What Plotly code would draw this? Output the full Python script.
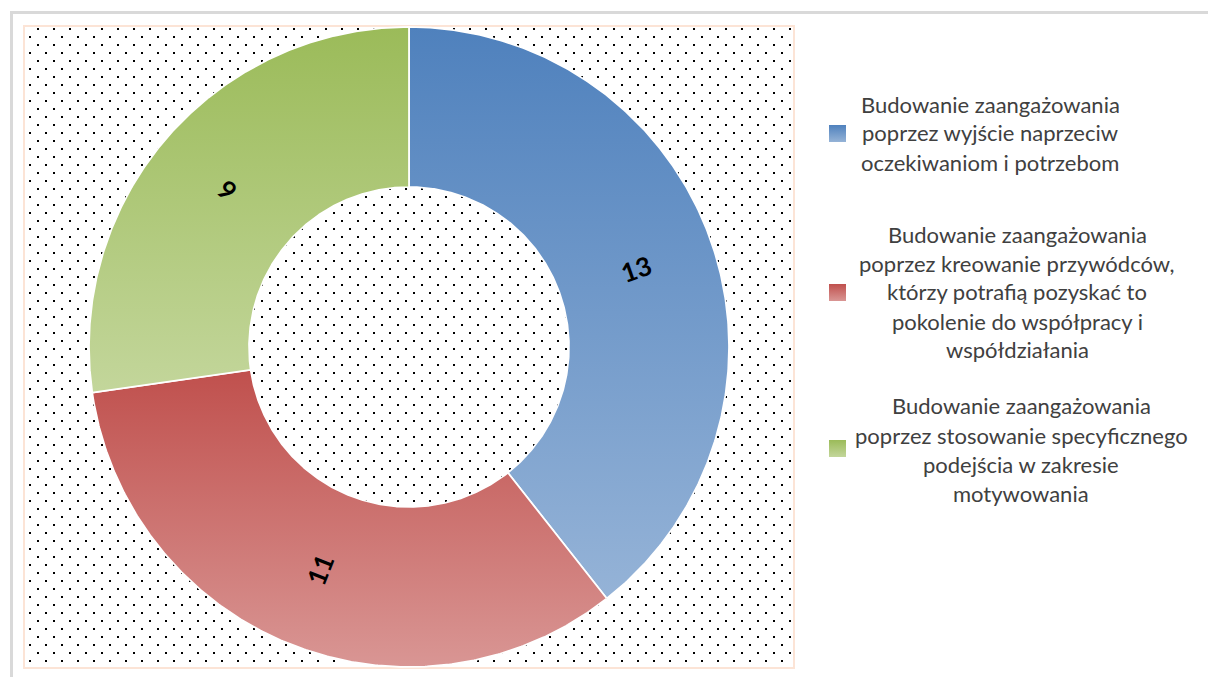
import base64
import numpy as np
import plotly.graph_objects as go

# ---- data ---------------------------------------------------------------
categories = [
    "Budowanie zaangażowania poprzez wyjście naprzeciw oczekiwaniom i potrzebom",
    "Budowanie zaangażowania poprzez kreowanie przywódców, którzy potrafią "
    "pozyskać to pokolenie do współpracy i współdziałania",
    "Budowanie zaangażowania poprzez stosowanie specyficznego podejścia "
    "w zakresie motywowania",
]
legend_lines = [
    ["Budowanie zaangażowania", "poprzez wyjście naprzeciw",
     "oczekiwaniom i potrzebom"],
    ["Budowanie zaangażowania", "poprzez kreowanie przywódców,",
     "którzy potrafią pozyskać to", "pokolenie do współpracy i",
     "współdziałania"],
    ["Budowanie zaangażowania", "poprzez stosowanie specyficznego",
     "podejścia w zakresie", "motywowania"],
]
values = [13, 11, 9]
colors_dark = ["#4F81BD", "#C0504D", "#9BBB59"]
colors_light = ["#95B3D7", "#D99694", "#C3D69B"]

# ---- geometry (pixels) ---------------------------------------------------
W, H = 1208, 677
PL, PR, PT, PB = 24, 794, 26, 668          # plot area box
PW, PH = PR - PL, PB - PT
R_OUT, R_IN = 320, 160                     # donut radii in axis units (1 unit = 1 px)
R_LABEL = (R_OUT + R_IN) / 2
FONT = "Lato"


def px_x(px):
    return (px - PL) / PW


def px_y(py):
    return 1 - (py - PT) / PH


def svg_uri(svg):
    return "data:image/svg+xml;base64," + base64.b64encode(svg.encode("utf-8")).decode()


fig = go.Figure()

# ---- donut slices with vertical gradient fill ---------------------------
total = sum(values)
start = 0
annotations = []
for cat, v, dark, light in zip(categories, values, colors_dark, colors_light):
    a0 = start / total * 2 * np.pi
    a1 = (start + v) / total * 2 * np.pi
    t = np.linspace(a0, a1, 300)
    x = np.concatenate([R_OUT * np.sin(t), R_IN * np.sin(t[::-1]), [R_OUT * np.sin(a0)]])
    y = np.concatenate([R_OUT * np.cos(t), R_IN * np.cos(t[::-1]), [R_OUT * np.cos(a0)]])
    fig.add_trace(go.Scatter(
        x=x, y=y, mode="lines", fill="toself", name=cat,
        line=dict(color="white", width=1.75),
        fillgradient=dict(type="vertical", colorscale=[[0, light], [1, dark]]),
        hoverinfo="skip", showlegend=False,
    ))
    mid = (start + v / 2) / total * 360
    rot = mid - 90
    if rot > 90:
        rot -= 180
    elif rot < -90:
        rot += 180
    annotations.append(dict(
        x=R_LABEL * np.sin(np.radians(mid)), y=R_LABEL * np.cos(np.radians(mid)),
        xref="x", yref="y", text=f"<b>{v}</b>", showarrow=False, textangle=rot,
        font=dict(family=FONT, size=26, color="#000000"),
    ))
    start += v

# ---- legend (centred multi-line text with gradient swatches) -----------
block_cx = [990, 1017, 1021]
block_y = [[104, 133, 162],
           [234, 263, 292, 321, 350],
           [406, 435, 464, 493]]
swatch_top = [125, 284, 440]
SW = 17
images = []
for lines, cx, ys, st, dark, light in zip(legend_lines, block_cx, block_y,
                                         swatch_top, colors_dark, colors_light):
    for line, yy in zip(lines, ys):
        annotations.append(dict(
            x=px_x(cx), y=px_y(yy), xref="paper", yref="paper", text=line,
            showarrow=False, xanchor="center", yanchor="middle",
            font=dict(family=FONT, size=22, color="#404040"),
        ))
    sw_svg = (
        f'<svg xmlns="http://www.w3.org/2000/svg" width="{SW}" height="{SW}">'
        '<defs><linearGradient id="g" x1="0" y1="0" x2="0" y2="1">'
        f'<stop offset="0" stop-color="{dark}"/><stop offset="1" stop-color="{light}"/>'
        '</linearGradient></defs>'
        f'<rect width="{SW}" height="{SW}" fill="url(#g)"/></svg>'
    )
    images.append(dict(
        source=svg_uri(sw_svg), xref="paper", yref="paper",
        x=px_x(829), y=px_y(st), sizex=SW / PW, sizey=SW / PH,
        xanchor="left", yanchor="top", sizing="stretch", layer="above",
    ))

# ---- dotted plot-area background ---------------------------------------
dots_svg = (
    f'<svg xmlns="http://www.w3.org/2000/svg" width="{PW}" height="{PH}">'
    '<defs><pattern id="d" width="16" height="16" patternUnits="userSpaceOnUse">'
    '<rect x="13" y="2" width="2" height="2" fill="#000"/>'
    '<rect x="5" y="10" width="2" height="2" fill="#000"/>'
    '</pattern></defs>'
    f'<rect width="{PW}" height="{PH}" fill="url(#d)"/></svg>'
)
images.append(dict(
    source=svg_uri(dots_svg), xref="paper", yref="paper",
    x=0, y=1, sizex=1, sizey=1, xanchor="left", yanchor="top",
    sizing="stretch", layer="below",
))

shapes = [
    # chart frame
    dict(type="rect", xref="paper", yref="paper",
         x0=px_x(11.5), x1=px_x(W + 20), y0=px_y(12.5), y1=px_y(H + 20),
         line=dict(color="#D9D9D9", width=3), fillcolor="rgba(0,0,0,0)"),
    # plot area border
    dict(type="rect", xref="paper", yref="paper",
         x0=0, x1=1, y0=0, y1=1, layer="below",
         line=dict(color="#FCE4D6", width=2), fillcolor="rgba(0,0,0,0)"),
]

fig.update_layout(
    width=W, height=H,
    margin=dict(l=PL, r=W - PR, t=PT, b=H - PB, pad=0),
    paper_bgcolor="white", plot_bgcolor="rgba(0,0,0,0)",
    xaxis=dict(range=[-PW / 2, PW / 2], visible=False, fixedrange=True),
    yaxis=dict(range=[-PH / 2, PH / 2], visible=False, fixedrange=True),
    annotations=annotations, images=images, shapes=shapes,
    showlegend=False,
)

fig.write_html("out.html")
